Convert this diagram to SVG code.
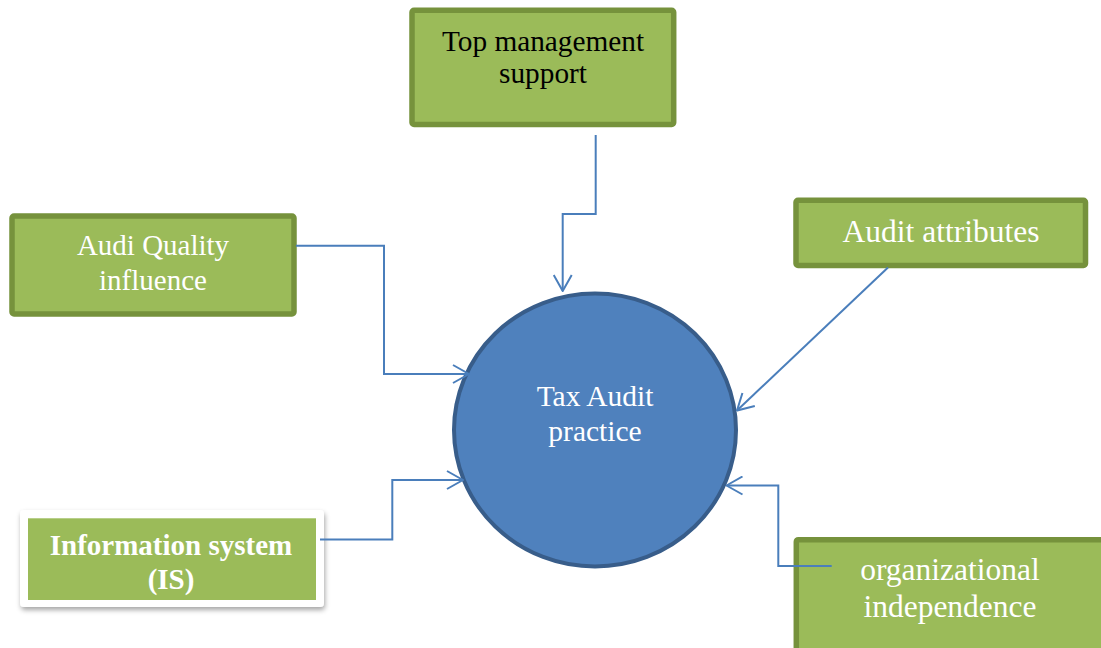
<svg xmlns="http://www.w3.org/2000/svg" width="1101" height="648" viewBox="0 0 1101 648">
<style>
.box{fill:#9bbb59;stroke:#76923c;stroke-width:5.5}
.t{font-family:"Liberation Serif","Times New Roman",serif;text-anchor:middle;fill:#ffffff}
.dark{fill:#000000}
.conn{fill:none;stroke:#4a7ebb;stroke-width:2}
</style>
<defs>
<marker id="arr" viewBox="0 0 18 20" refX="17" refY="10" markerWidth="18" markerHeight="20" markerUnits="userSpaceOnUse" orient="auto">
<path d="M1,1 L17,10 L1,19" fill="none" stroke="#4a7ebb" stroke-width="2"/>
</marker>
<filter id="sh" x="-10%" y="-10%" width="120%" height="130%">
<feDropShadow dx="1" dy="3" stdDeviation="2.5" flood-color="#000" flood-opacity="0.35"/>
</filter>
</defs>
<rect width="1101" height="648" fill="#ffffff"/>
<g id="node-center">
<ellipse cx="595" cy="430" rx="141" ry="136.5" fill="#4f81bd" stroke="#385d8a" stroke-width="4"/>
<text class="t" x="595" y="406" font-size="29.5">Tax Audit</text>
<text class="t" x="595" y="441" font-size="29.5">practice</text>
</g>
<g id="node-top">
<rect class="box" x="412" y="10.3" width="261.7" height="114.2" rx="2"/>
<text class="t dark" x="543" y="51" font-size="29.3">Top management</text>
<text class="t dark" x="543" y="83" font-size="29.3">support</text>
</g>
<g id="node-audi">
<rect class="box" x="12" y="216" width="282" height="98" rx="2"/>
<text class="t" x="153" y="255" font-size="29">Audi Quality</text>
<text class="t" x="153" y="290" font-size="29">influence</text>
</g>
<g id="node-attributes">
<rect class="box" x="796" y="200.3" width="289.5" height="65.2" rx="2"/>
<text class="t" x="941" y="242" font-size="31.5">Audit attributes</text>
</g>
<g id="node-is">
<rect x="20" y="510" width="304" height="97" rx="4" fill="#ffffff" filter="url(#sh)"/>
<rect x="28" y="518.3" width="288" height="81.7" fill="#9bbb59"/>
<text class="t" x="171" y="555" font-size="29" font-weight="bold">Information system</text>
<text class="t" x="171" y="589" font-size="29" font-weight="bold">(IS)</text>
</g>
<g id="node-org">
<rect class="box" x="796.3" y="539.7" width="330" height="130" rx="2"/>
<text class="t" x="950" y="580" font-size="31.5">organizational</text>
<text class="t" x="950" y="617" font-size="31.5">independence</text>
</g>
<g id="connectors">
<path class="conn" d="M595.7,135 V214 H562.7 V291" marker-end="url(#arr)"/>
<path class="conn" d="M296,245.7 H384 V374 H469" marker-end="url(#arr)"/>
<path class="conn" d="M888,267.5 L737,410.5" marker-end="url(#arr)"/>
<path class="conn" d="M320,539.5 H392.3 V480 H463" marker-end="url(#arr)"/>
<path class="conn" d="M831.7,566 H778.3 V485.5 H726.5" marker-end="url(#arr)"/>
</g>
</svg>
